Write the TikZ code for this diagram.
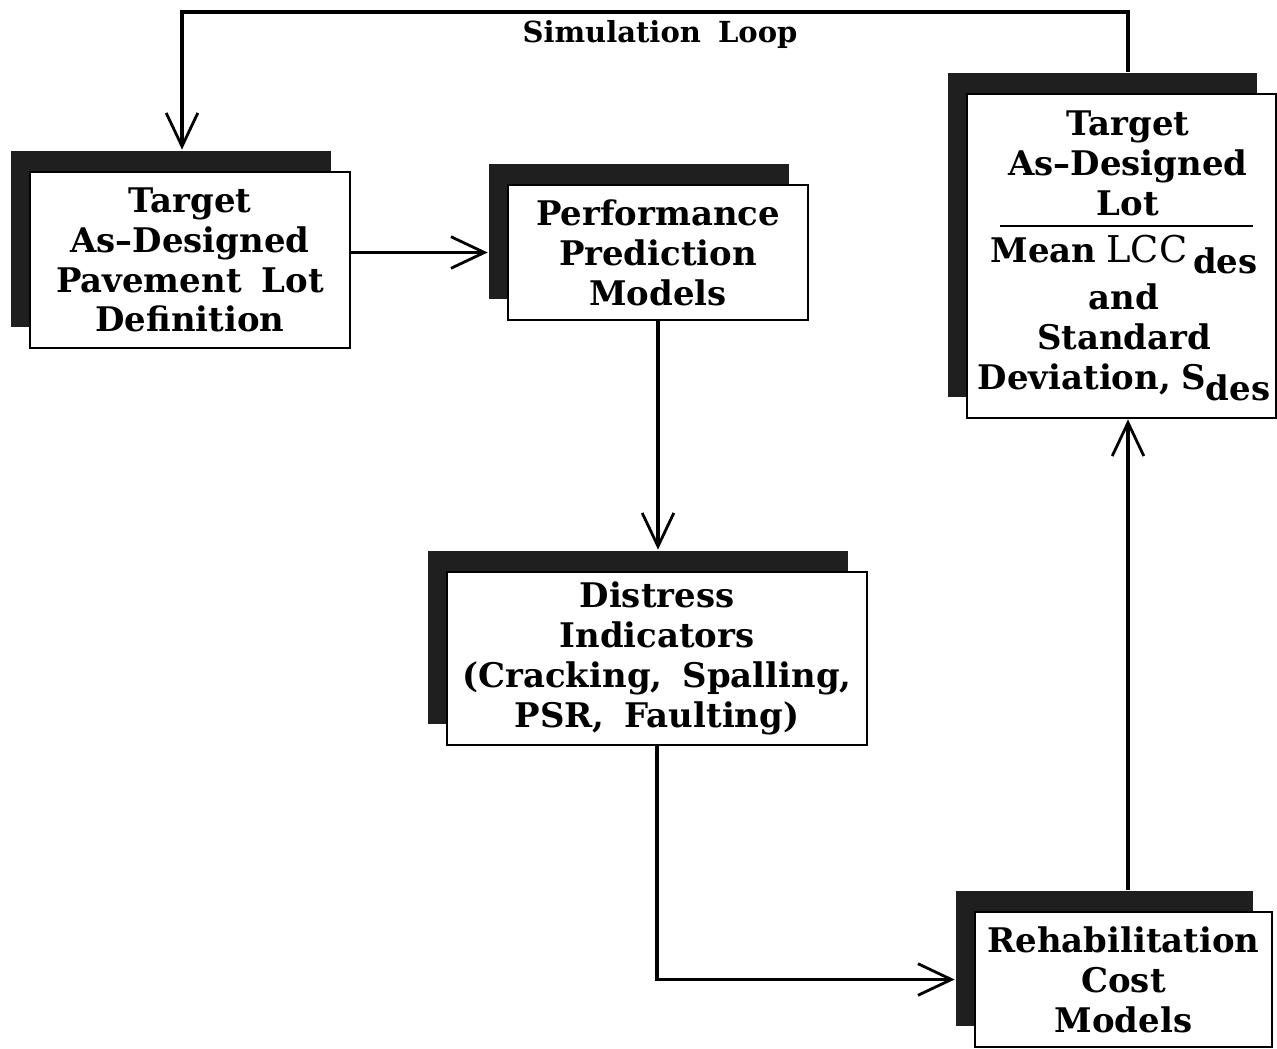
\documentclass[tikz,border=0pt]{standalone}
\usepackage{fontspec}
\setmainfont{DejaVu Serif}[WordSpace=1.7]
\usetikzlibrary{arrows.meta,shadows,calc}
\begin{document}
\begin{tikzpicture}[x=0.02cm,y=-0.02cm,
  boxfont/.style={font=\bfseries\fontsize{19.3}{22.7}\selectfont},
  box/.style={boxfont, draw, line width=1.6pt, fill=white, align=center, inner sep=0pt,
    general shadow={fill=black!88, draw=none, shadow xshift=-0.38cm, shadow yshift=0.42cm}},
  txt/.style={boxfont, align=center, inner sep=0pt},
  conn/.style={line width=2.2pt, -{Straight Barb[length=19pt,width=18pt,line width=1.6pt]}}]
\useasboundingbox (0,0) rectangle (1277,1048);
\node[box, minimum width=6.4cm, minimum height=3.52cm] (tgt) at (190,260) {Target\\As--Designed\\Pavement Lot\\Definition};
\node[box, minimum width=6cm, minimum height=2.7cm] (ppm) at (658,252.5) {Performance\\Prediction\\Models};
\node[box, minimum width=8.4cm, minimum height=3.46cm] (dist) at (657,658.5) {Distress\\Indicators\\(Cracking, Spalling,\\PSR, Faulting)};
\node[box, minimum width=6.18cm, minimum height=6.48cm] (res) at (1121.5,256) {};
\node[box, minimum width=5.94cm, minimum height=2.7cm] (reh) at (1123.5,979.5) {Rehabilitation\\Cost\\Models};
\node[txt] (restop) at (1128,163) {Target\\As--Designed\\Lot};
\coordinate (ruleL) at (1000,226);
\coordinate (ruleR) at (1253,226);
\draw[line width=1.2pt] (ruleL) -- (ruleR);
\node[txt] (resbot) at (1124,318) {Mean\hspace{0.3em}{\mdseries\fontsize{21}{22}\selectfont LCC}\,\raisebox{-6pt}{des}\\[4pt]and\\Standard\\Deviation,\hspace{0.3em}S\raisebox{-6pt}{des}};
\node[font=\bfseries\fontsize{16.5}{18}\selectfont, inner sep=0pt] (lbl) at (660,35) {Simulation Loop};
\coordinate (vx) at (1128,0);
\coordinate (loopR) at (1128,12);
\coordinate (loopL) at (182,12);
\draw[conn] ($(res.north -| vx)+(0,-21)$) -- (loopR) -- (loopL) -- ($(tgt.north -| loopL)+(0,-21)$);
\draw[conn] (tgt.east |- ppm.west) -- ($(ppm.west)+(-19,0)$);
\draw[conn] (ppm.south) -- ($(ppm.south |- dist.north)+(0,-21)$);
\draw[conn] (dist.south) |- ($(reh.west)+(-19,0)$);
\draw[conn] ($(reh.north -| vx)+(0,-21)$) -- (res.south -| vx);
\end{tikzpicture}
\end{document}
